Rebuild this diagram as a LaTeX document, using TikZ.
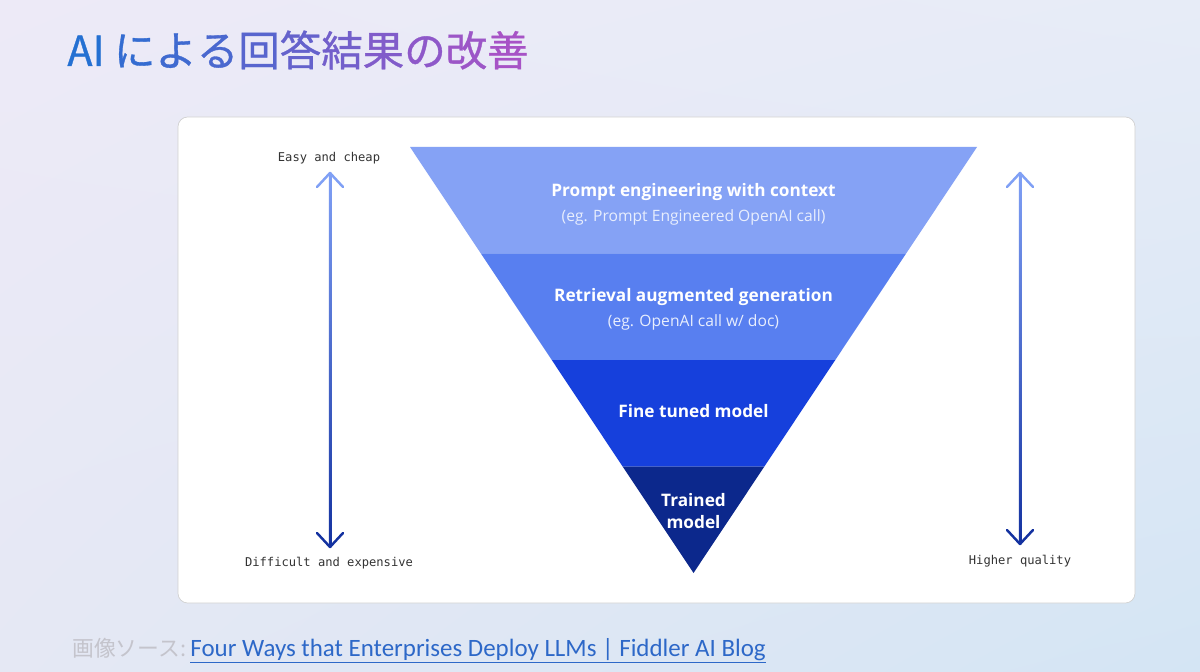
\documentclass[tikz,border=0pt]{standalone}
\usepackage{fontspec}
\usetikzlibrary{calc,positioning,shadings}
\newfontfamily\jpfont{Noto Sans CJK JP}
\newfontfamily\jptitle[FakeBold=0.8]{Noto Sans CJK JP}
\newfontfamily\bandfont{Open Sans}
\newfontfamily\axisfont{DejaVu Sans Mono}
\newfontfamily\linkfont{Carlito}
\definecolor{bgTL}{RGB}{237,234,247}
\definecolor{bgTR}{RGB}{231,236,247}
\definecolor{bgBL}{RGB}{229,232,244}
\definecolor{bgBR}{RGB}{212,229,244}
\definecolor{tBlue}{RGB}{36,112,210}
\definecolor{tPurple}{RGB}{172,82,198}
\definecolor{bandA}{RGB}{133,162,245}
\definecolor{bandB}{RGB}{88,127,240}
\definecolor{bandC}{RGB}{22,64,220}
\definecolor{bandD}{RGB}{12,40,140}
\definecolor{arrLight}{RGB}{128,160,245}
\definecolor{arrDark}{RGB}{20,50,160}
\definecolor{subWhite}{RGB}{232,238,253}
\definecolor{srcGray}{RGB}{196,196,204}
\definecolor{linkBlue}{RGB}{45,104,200}
\newcommand\tch[2]{{\color{tPurple!#1!tBlue}#2}}
\tikzset{
  bandtitle/.style={text=white, font=\bandfont\bfseries\fontsize{9.8}{11}\selectfont, inner sep=0pt},
  bandsub/.style={text=subWhite, font=\bandfont\fontsize{8.9}{10}\selectfont, inner sep=0pt},
  axislabel/.style={text=black!80, font=\axisfont\fontsize{6.9}{8}\selectfont, inner sep=0pt},
  axisline/.style={line width=1.4pt},
}
\begin{document}
\begin{tikzpicture}[x=0.02cm, y=-0.02cm]
\useasboundingbox (0,0) rectangle (1200,672);
\shade[upper left=bgTL, upper right=bgTR, lower left=bgBL, lower right=bgBR] (0,0) rectangle (1200,672);

% title
\node[anchor=base west, inner sep=0pt, font=\jptitle\fontsize{23.6}{26}\selectfont] (title) at (67,66)
  {\tch{0}{AI} \tch{12}{に}\tch{20}{よ}\tch{28}{る}\tch{38}{回}\tch{48}{答}\tch{58}{結}\tch{68}{果}\tch{78}{の}\tch{88}{改}\tch{96}{善}};

% card
\draw[draw=black!18, fill=white, rounded corners=5.5pt] (178,117) rectangle (1135,603);

% funnel
\coordinate (tl) at (410,147);
\coordinate (tr) at (977,147);
\coordinate (apex) at (693.5,573);
\coordinate (l1) at ($(tl)!0.25!(apex)$);
\coordinate (r1) at ($(tr)!0.25!(apex)$);
\coordinate (l2) at ($(tl)!0.5!(apex)$);
\coordinate (r2) at ($(tr)!0.5!(apex)$);
\coordinate (l3) at ($(tl)!0.75!(apex)$);
\coordinate (r3) at ($(tr)!0.75!(apex)$);
\fill[bandA] (tl) -- (tr) -- (r1) -- (l1) -- cycle;
\fill[bandB] (l1) -- (r1) -- (r2) -- (l2) -- cycle;
\fill[bandC] (l2) -- (r2) -- (r3) -- (l3) -- cycle;
\fill[bandD] (l3) -- (r3) -- (apex) -- cycle;

\node[bandtitle] (prompt) at (693.5,192) {Prompt engineering with context};
\node[bandsub] (promptEg) at (693.5,217) {(eg. Prompt Engineered OpenAI call)};
\node[bandtitle] (rag) at (693.5,297) {Retrieval augmented generation};
\node[bandsub] (ragEg) at (693.5,322) {(eg. OpenAI call w/ doc)};
\node[bandtitle] (fine) at (693.5,411) {Fine tuned model};
\node[bandtitle, align=center] (trained) at (693.5,511) {Trained\\[2pt]model};

% left axis
\node[axislabel] (easyLbl) at (329,158) {Easy and cheap};
\node[axislabel] (hardLbl) at (329,563) {Difficult and expensive};
\coordinate (easyTip) at (330,173);
\coordinate (hardTip) at (330,547);
% right axis
\node[axislabel] (qualLbl) at (1020,561) {Higher quality};
\coordinate (qualTop) at (1020,173);
\coordinate (qualBot) at (1020,544);

\foreach \a/\b in {easyTip/hardTip, qualTop/qualBot}{
  \shade[top color=arrLight, bottom color=arrDark] ($(\a)+(-1.25,0)$) rectangle ($(\b)+(1.25,0)$);
  \draw[axisline, arrLight, line cap=round, line join=round] ($(\a)+(-13,14)$) -- (\a) -- ($(\a)+(13,14)$);
  \draw[axisline, arrDark, line cap=round, line join=round] ($(\b)+(-13,-14)$) -- (\b) -- ($(\b)+(13,-14)$);
}

% source
\node[anchor=base west, inner sep=0pt, text=srcGray, font=\jpfont\fontsize{12.4}{14}\selectfont] (srcLbl) at (72,656) {画像ソース:};
\node[inner sep=0pt, text=linkBlue, font=\linkfont\fontsize{14.2}{16}\selectfont, right=2pt of srcLbl.base east, anchor=base west] (srcLink)
  {\underline{Four Ways that Enterprises Deploy LLMs | Fiddler AI Blog}};
\end{tikzpicture}
\end{document}
